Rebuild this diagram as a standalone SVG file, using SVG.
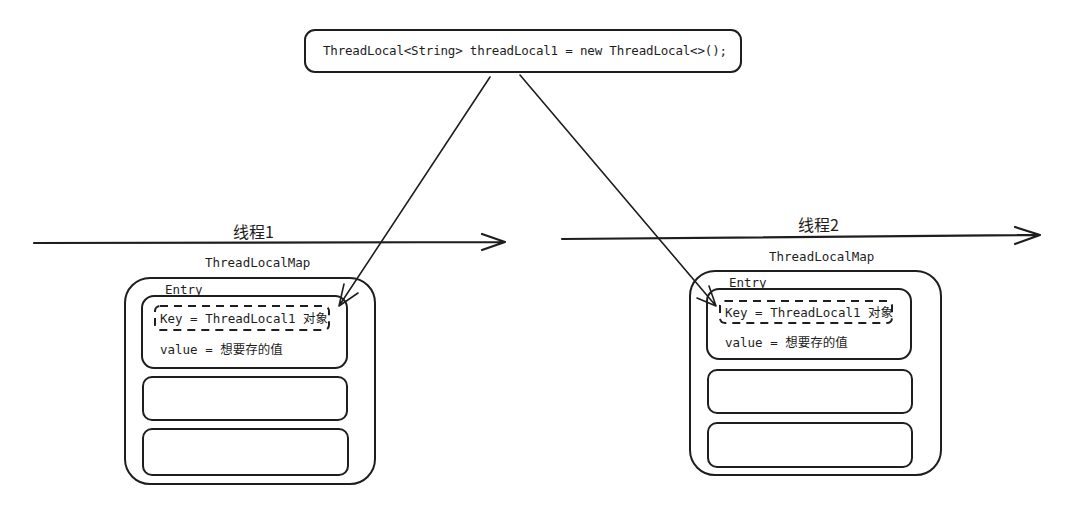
<svg xmlns="http://www.w3.org/2000/svg" width="1084" height="508" viewBox="0 0 1084 508">
<style>
.box{fill:none;stroke:#1e1e1e;stroke-width:2}
.dash{fill:none;stroke:#1e1e1e;stroke-width:2;stroke-dasharray:8 6}
.ln{fill:none;stroke:#1e1e1e;stroke-width:1.6;stroke-linecap:round;stroke-linejoin:round}
.th{fill:none;stroke:#1e1e1e;stroke-width:2.2;stroke-linecap:round;stroke-linejoin:round}
.t{font-family:"DejaVu Sans Mono","Liberation Mono","Noto Sans CJK SC",monospace;font-size:12.5px;fill:#1e1e1e}
.c{font-family:"Noto Sans CJK SC",sans-serif;font-size:16px;fill:#1e1e1e}
</style>
<rect width="1084" height="508" fill="#ffffff"/>
<g id="code">
<rect class="box" x="305" y="30" width="436" height="42" rx="10"/>
<text class="t" x="323" y="55" textLength="404">ThreadLocal&lt;String&gt; threadLocal1 = new ThreadLocal&lt;&gt;();</text>
</g>
<g id="thread1">
<text class="c" x="233" y="238">线程1</text>
<text class="t" x="205" y="267">ThreadLocalMap</text>
<rect class="box" x="125" y="278" width="250" height="206" rx="25"/>
<text class="t" x="165" y="294">Entry</text>
<rect class="box" x="142" y="296" width="205" height="72" rx="12"/>
<rect class="dash" x="155" y="306" width="174" height="24" rx="5"/>
<text class="t" x="160" y="323">Key = ThreadLocal1 对象</text>
<text class="t" x="160" y="354">value = 想要存的值</text>
<rect class="box" x="143" y="377" width="204" height="43" rx="9"/>
<rect class="box" x="143" y="429" width="205" height="46" rx="9"/>
</g>
<g id="thread2">
<text class="c" x="798" y="231">线程2</text>
<text class="t" x="769" y="261">ThreadLocalMap</text>
<rect class="box" x="690" y="271" width="251" height="204" rx="25"/>
<text class="t" x="729" y="287">Entry</text>
<rect class="box" x="707" y="289" width="204" height="70" rx="12"/>
<rect class="dash" x="720" y="301" width="172" height="22" rx="5"/>
<text class="t" x="725" y="317">Key = ThreadLocal1 对象</text>
<text class="t" x="725" y="347">value = 想要存的值</text>
<rect class="box" x="708" y="370" width="204" height="43" rx="9"/>
<rect class="box" x="708" y="423" width="204" height="44" rx="9"/>
</g>
<g id="connectors">
<path class="th" d="M34 243 L505 242 M482 234 L505 242 L482 250"/>
<path class="th" d="M562 239 L1040 235 M1015 227 L1040 235 L1015 244"/>
<path class="ln" d="M490 77 L339 306 M344 284 L339 306 M358 293 L339 306"/>
<path class="ln" d="M520 75 L716 306 M709 286 L716 306 M697 298 L716 306"/>
</g>
</svg>
